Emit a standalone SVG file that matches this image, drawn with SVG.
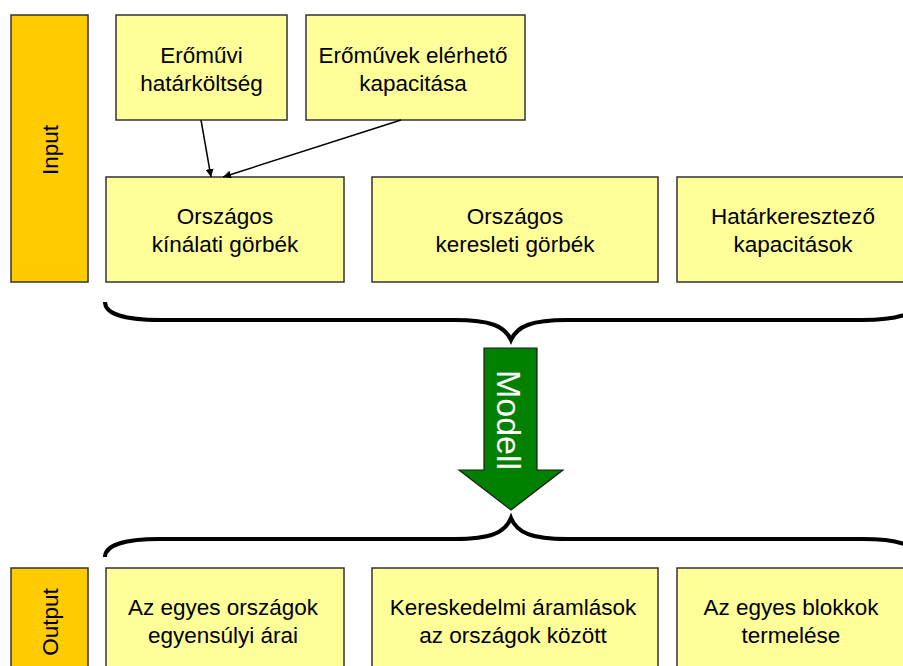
<svg xmlns="http://www.w3.org/2000/svg" width="903" height="666" viewBox="0 0 903 666">
<defs>
<style>
.box{fill:#FFFF99;stroke:#333333;stroke-width:1.5}
.bar{fill:#FFCC00;stroke:#333333;stroke-width:1.5}
.t{font-family:"Liberation Sans",Arial,sans-serif;font-size:22.5px;fill:#000;text-anchor:middle}
.brace{fill:none;stroke:#000;stroke-width:4}
.conn{stroke:#000;stroke-width:1.5;fill:none}
</style>
<marker id="ah" viewBox="0 0 10 10" refX="10" refY="5" markerWidth="8" markerHeight="8" markerUnits="userSpaceOnUse" orient="auto">
<path d="M0,0 L10,5 L0,10 z" fill="#000"/>
</marker>
</defs>
<rect width="903" height="666" fill="#fff"/>
<g id="input-bar">
<rect class="bar" x="11" y="15" width="77" height="267"/>
<text class="t" transform="translate(58,150) rotate(-90)">Input</text>
</g>
<g id="eromuvi-hatarkoltseg">
<rect class="box" x="116" y="15" width="171" height="105"/>
<text class="t" x="201.5" y="63">Erőművi</text>
<text class="t" x="201.5" y="91">határköltség</text>
</g>
<g id="eromuvek-kapacitasa">
<rect class="box" x="306" y="15" width="219" height="105"/>
<text class="t" x="413" y="63">Erőművek elérhető</text>
<text class="t" x="413" y="91">kapacitása</text>
</g>
<g id="kinalati">
<rect class="box" x="106" y="177" width="238" height="105"/>
<text class="t" x="225" y="224">Országos</text>
<text class="t" x="225" y="252">kínálati görbék</text>
</g>
<g id="keresleti">
<rect class="box" x="372" y="177" width="286" height="105"/>
<text class="t" x="515" y="224">Országos</text>
<text class="t" x="515" y="252">keresleti görbék</text>
</g>
<g id="hatarkereszto">
<rect class="box" x="677" y="177" width="232" height="105"/>
<text class="t" x="793" y="224">Határkeresztező</text>
<text class="t" x="793" y="252">kapacitások</text>
</g>
<g id="connectors">
<line class="conn" x1="201" y1="120" x2="211" y2="177" marker-end="url(#ah)"/>
<line class="conn" x1="401" y1="120" x2="223" y2="177" marker-end="url(#ah)"/>
<path class="brace" d="M105,302 C105,314 125,320 160,320 L455,320 C490,320 505,326 511,340 C517,326 532,320 567,320 L862,320 C897,320 917,314 917,302"/>
<path class="brace" d="M105,557 C105,545 125,539 160,539 L455,539 C490,539 505,533 511,518 C517,533 532,539 567,539 L862,539 C897,539 917,545 917,557"/>
</g>
<g id="modell">
<path d="M484,348 L537,348 L537,470 L563,470 L511,510 L459,470 L484,470 z" fill="#008000" stroke="#1a1a1a" stroke-width="1.2"/>
<text transform="translate(497,420) rotate(90)" font-family="'Liberation Sans',Arial,sans-serif" font-size="34" fill="#fff" text-anchor="middle">Modell</text>
</g>
<g id="output-bar">
<rect class="bar" x="11" y="568" width="77" height="110"/>
<text class="t" transform="translate(58,622) rotate(-90)">Output</text>
</g>
<g id="arak">
<rect class="box" x="106" y="568" width="238" height="110"/>
<text class="t" x="223" y="615">Az egyes országok</text>
<text class="t" x="223" y="643">egyensúlyi árai</text>
</g>
<g id="aramlasok">
<rect class="box" x="372" y="568" width="286" height="110"/>
<text class="t" x="513" y="615">Kereskedelmi áramlások</text>
<text class="t" x="513" y="643">az országok között</text>
</g>
<g id="blokkok">
<rect class="box" x="677" y="568" width="232" height="110"/>
<text class="t" x="791" y="615">Az egyes blokkok</text>
<text class="t" x="791" y="643">termelése</text>
</g>
</svg>
